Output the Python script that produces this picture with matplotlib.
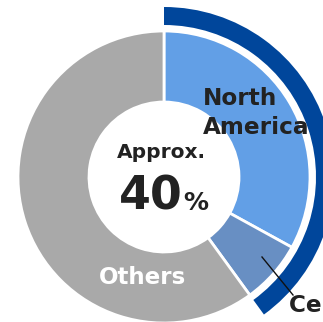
import matplotlib
matplotlib.use("Agg")
import matplotlib.pyplot as plt
from matplotlib.patches import Wedge

# Data
categories = ["North America", "Central America", "Others"]
shares = [33, 7, 60]
colors = ["#629FE6", "#688FC3", "#A9A9A9"]
highlight_value = shares[0] + shares[1]  # approx. 40%
center_title = "Approx."
center_value = "40"

W, H = 323, 322
fig = plt.figure(figsize=(W / 100, H / 100), dpi=100)
ax = fig.add_axes([0, 0, 1, 1])

cx, cy = 164, H - 177
r_out, r_in = 146, 75

ax.pie(shares, colors=colors, startangle=90, counterclock=False,
       center=(cx, cy), radius=r_out, frame=True,
       wedgeprops=dict(width=r_out - r_in, edgecolor="white", linewidth=2))
ax.set_xlim(0, W)
ax.set_ylim(0, H)
ax.set_aspect("equal")
ax.axis("off")

# Outer highlight arc
theta_span = highlight_value / sum(shares) * 360
ax.add_patch(Wedge((cx, cy), 170, 90 - theta_span, 90, width=18,
                   facecolor="#00469B", edgecolor="none"))

dark = "#222222"
# Labels
ax.text(203, H - 98, "North", fontsize=16.7, fontweight="bold", color=dark,
        ha="left", va="center")
ax.text(203, H - 127, "America", fontsize=16.7, fontweight="bold", color=dark,
        ha="left", va="center")
ax.text(143, H - 278, "Others", fontsize=16.6, fontweight="bold", color="white",
        ha="center", va="center")

# Central label with leader line (cut off at figure edge, as in the reference)
ax.plot([262, 293], [H - 257, H - 295], color="#111111", linewidth=1)
ax.text(289, H - 312, "Central America", fontsize=16.7, fontweight="bold",
        color=dark, ha="left", va="baseline")

# Center text
ax.text(161, H - 152, center_title, fontsize=14.5, fontweight="bold", color=dark,
        ha="center", va="center")
ax.text(183, H - 210, center_value, fontsize=33, fontweight="bold", color=dark,
        ha="right", va="baseline")
ax.text(183, H - 210, "%", fontsize=18, fontweight="bold", color=dark,
        ha="left", va="baseline")

fig.savefig("out.png", dpi=100)
